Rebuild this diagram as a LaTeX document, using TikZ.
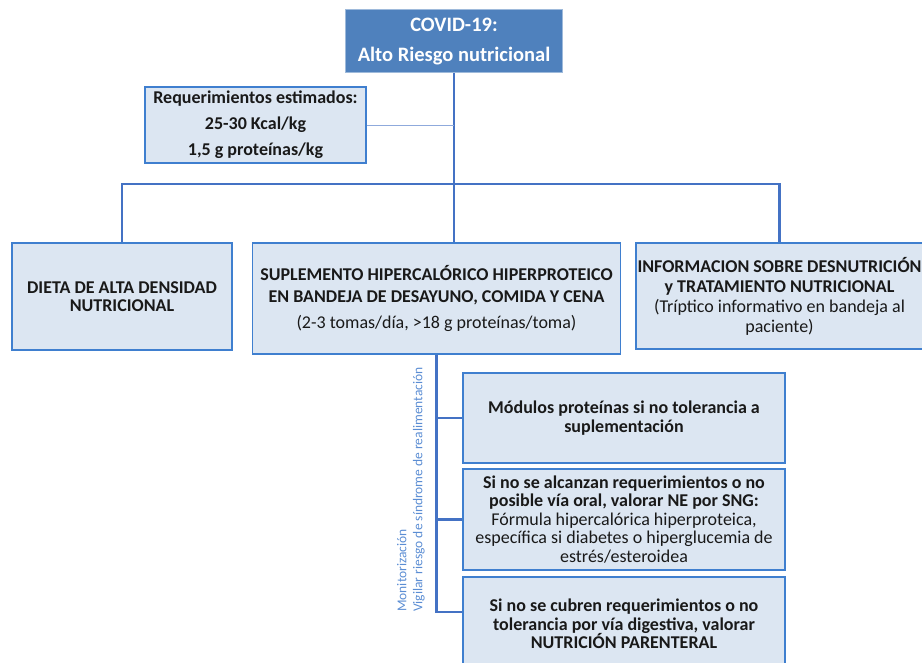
\documentclass[tikz,border=0pt]{standalone}
\usepackage{fontspec}
\setmainfont{Carlito}
\definecolor{topblue}{HTML}{4F81BD}
\definecolor{paleblue}{HTML}{DCE6F2}
\definecolor{edgeblue}{HTML}{3F7FCF}
\definecolor{linkblue}{HTML}{4472C4}
\definecolor{notecol}{HTML}{5B8DD3}

\begin{document}
\begin{tikzpicture}[x=1pt,y=-1pt,
  box/.style={draw=edgeblue,line width=1.4pt,fill=paleblue,inner sep=0pt,align=center,text=black!90},
  link/.style={draw=linkblue,line width=2.8pt},
  fine/.style={draw=linkblue!60!white,line width=0.8pt}]
\useasboundingbox (0,0) rectangle (922,663);
\node[draw=topblue!55!white,line width=1pt,fill=topblue,text=white,minimum width=217pt,minimum height=63pt,inner sep=0pt,align=center,font=\bfseries\fontsize{20.5}{30}\selectfont] (covid) at (454,41.5) {COVID-19:\\Alto Riesgo nutricional};
\node[box,minimum width=221pt,minimum height=76pt,font=\bfseries\fontsize{18}{26}\selectfont] (req) at (255.5,125) {Requerimientos estimados:\\25-30 Kcal/kg\\1,5 g proteínas/kg};
\coordinate (hub) at (454,184);
\node[box,minimum width=220pt,minimum height=107pt,font=\bfseries\fontsize{18}{18}\selectfont] (dieta) at (122,296.5) {DIETA DE ALTA DENSIDAD\\NUTRICIONAL};
\node[box,minimum width=368pt,minimum height=111pt,font=\fontsize{18}{22}\selectfont] (sup) at (436.5,298.5) {\textbf{SUPLEMENTO HIPERCALÓRICO HIPERPROTEICO}\\\textbf{EN BANDEJA DE DESAYUNO, COMIDA Y CENA}\\[4pt](2-3 tomas/día, >18 g proteínas/toma)};
\node[box,minimum width=287pt,minimum height=106pt,font=\fontsize{18}{20}\selectfont] (info) at (779.5,296) {\textbf{INFORMACION SOBRE DESNUTRICIÓN}\\\textbf{y TRATAMIENTO NUTRICIONAL}\\(Tríptico informativo en bandeja al\\paciente)};
\node[box,minimum width=322pt,minimum height=90pt,font=\bfseries\fontsize{18}{19}\selectfont] (mod) at (624,418) {Módulos proteínas si no tolerancia a\\suplementación};
\node[box,minimum width=322pt,minimum height=101pt,font=\fontsize{18}{18.5}\selectfont] (ne) at (624,519.5) {\textbf{Si no se alcanzan requerimientos o no}\\\textbf{posible vía oral, valorar NE por SNG:}\\Fórmula hipercalórica hiperproteica,\\específica si diabetes o hiperglucemia de\\estrés/esteroidea};
\node[box,minimum width=322pt,minimum height=94pt,font=\bfseries\fontsize{18}{18.5}\selectfont] (np) at (624,624) {Si no se cubren requerimientos o no\\tolerancia por vía digestiva, valorar\\NUTRICIÓN PARENTERAL};
\coordinate (npin) at (np.west |- 0,612);
\node[rotate=90,anchor=south west,inner sep=0pt,align=left,text=notecol,font=\fontsize{13.5}{16}\selectfont] (note) at (425,612) {Monitorización\\Vigilar riesgo de síndrome de realimentación};
\draw[link] (covid.south) -- (hub);
\draw[link] (dieta.north) |- (hub) -| (info.north);
\draw[link] (hub) -- (hub |- sup.north);
\draw[fine] (req.east) -- (req.east -| hub);
\draw[link] (sup.south) |- (mod.west);
\draw[link] (sup.south) |- (ne.west);
\draw[link] (sup.south) |- (npin);
\end{tikzpicture}
\end{document}
